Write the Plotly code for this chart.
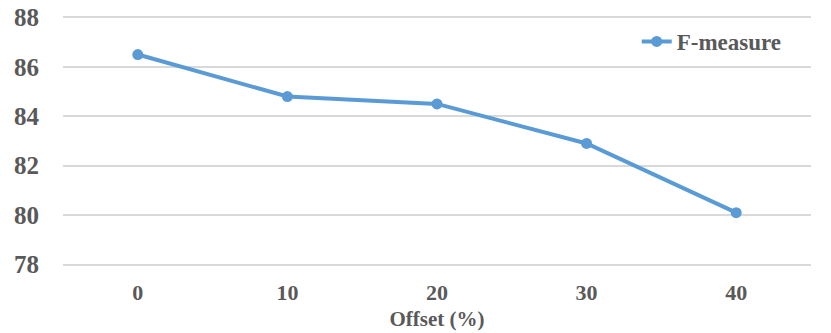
import plotly.graph_objects as go

categories = ["0", "10", "20", "30", "40"]
f_measure = [86.5, 84.8, 84.5, 82.9, 80.1]
y_ticks = [78, 80, 82, 84, 86, 88]

font_family = "Liberation Serif, Times New Roman, serif"
text_color = "#595959"
line_color = "#5B9BD5"

fig = go.Figure()
fig.add_trace(go.Scatter(
    x=categories, y=f_measure, mode="lines+markers", name="F-measure",
    line=dict(color=line_color, width=4),
    marker=dict(color=line_color, size=11),
))

fig.update_layout(
    width=823, height=325,
    margin=dict(l=55, r=20, t=7, b=66),
    paper_bgcolor="white", plot_bgcolor="white",
    font=dict(family=font_family, color=text_color),
    showlegend=True,
    legend=dict(
        x=0.767, y=0.895, xanchor="left", yanchor="middle",
        font=dict(size=23, family=font_family, color=text_color, weight="bold"),
        bgcolor="rgba(0,0,0,0)",
    ),
    xaxis=dict(
        type="category", range=[-0.5, 4.5], automargin=False,
        showgrid=False, zeroline=False, showline=False,
        ticks="outside", ticklen=6, tickcolor="rgba(0,0,0,0)",
        tickfont=dict(size=22, family=font_family, color=text_color, weight="bold"),
        title=dict(text="Offset (%)", standoff=6,
                   font=dict(size=21, family=font_family, color=text_color, weight="bold")),
    ),
    yaxis=dict(
        range=[77.9, 88.1], tickvals=y_ticks, automargin=False,
        ticklabeloverflow="allow",
        showgrid=True, gridcolor="#D9D9D9", gridwidth=1.5,
        zeroline=False, showline=False,
        ticks="outside", ticklen=18, tickcolor="rgba(0,0,0,0)",
        tickfont=dict(size=25, family=font_family, color=text_color, weight="bold"),
    ),
)

fig.write_html("out.html")
